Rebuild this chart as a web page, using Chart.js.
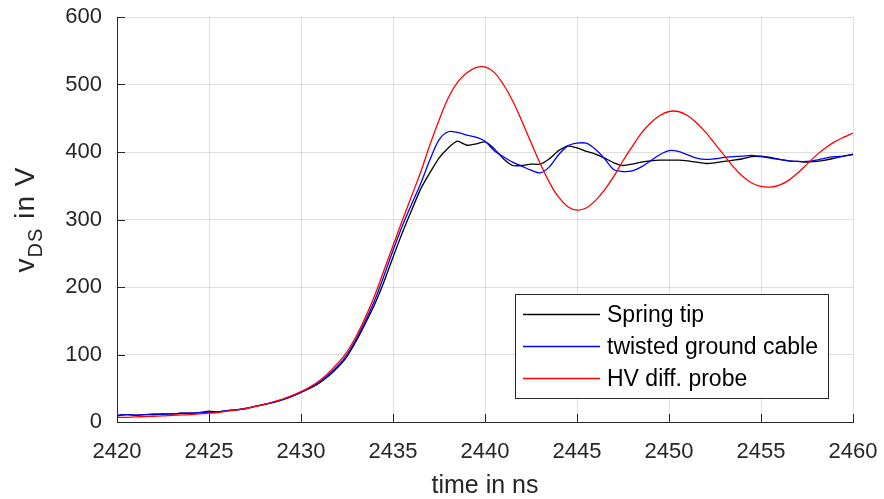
<!DOCTYPE html>
<html>
<head>
<meta charset="utf-8">
<script src="https://cdn.jsdelivr.net/npm/chart.js@4.4.1/dist/chart.umd.min.js"></script>
<style>
  html, body { margin: 0; padding: 0; background: #fff; }
</style>
</head>
<body>
<canvas id="vdsChart" width="884" height="499"></canvas>
<script>
// time axis in ns, one sample every 0.5 ns
const timeNs = [
  2420, 2420.5, 2421, 2421.5, 2422, 2422.5, 2423, 2423.5, 2424, 2424.5,
  2425, 2425.5, 2426, 2426.5, 2427, 2427.5, 2428, 2428.5, 2429, 2429.5,
  2430, 2430.5, 2431, 2431.5, 2432, 2432.5, 2433, 2433.5, 2434, 2434.5,
  2435, 2435.5, 2436, 2436.5, 2437, 2437.5, 2438, 2438.5, 2439, 2439.5,
  2440, 2440.5, 2441, 2441.5, 2442, 2442.5, 2443, 2443.5, 2444, 2444.5,
  2445, 2445.5, 2446, 2446.5, 2447, 2447.5, 2448, 2448.5, 2449, 2449.5,
  2450, 2450.5, 2451, 2451.5, 2452, 2452.5, 2453, 2453.5, 2454, 2454.5,
  2455, 2455.5, 2456, 2456.5, 2457, 2457.5, 2458, 2458.5, 2459, 2459.5,
  2460
];

// v_DS in V
const springTip = [
  9, 11, 10, 11, 11, 12, 12, 13, 13, 14,
  16, 15, 17, 18, 20, 23, 26, 29, 33, 38,
  44, 50, 58, 68, 81, 97, 120, 146, 174, 207,
  244, 280, 313, 345, 369, 391, 406, 416, 410, 412,
  415, 405, 390, 380, 380, 382, 382, 390, 402, 409,
  406, 401, 397, 391, 384, 380, 382, 385, 387, 388,
  388, 388, 387, 385, 383, 384, 386, 388, 390, 393,
  394, 392, 389, 387, 386, 385, 386, 388, 391, 394,
  397
];

const twistedCable = [
  10, 11, 10, 11, 12, 11.5, 12, 13, 13, 14,
  14, 15, 17, 18, 20, 23, 26, 29, 33, 38,
  44, 51, 59, 70, 83, 100, 123, 150, 180, 216,
  254, 290, 322, 353, 388, 418, 430, 429, 425, 422,
  416, 402, 393, 385, 379, 373, 369, 378, 396, 409,
  413, 413, 404, 390, 374, 371, 372, 378, 387, 396,
  402, 401, 396, 391, 389, 390, 392, 393, 394, 395,
  393, 391, 389, 387, 386, 386, 388, 391, 393, 394,
  396
];

const hvProbe = [
  7, 7, 7.5, 8, 8.5, 9, 10, 10.5, 11, 12,
  13, 14, 16, 18, 20, 23, 26, 30, 34, 39,
  45, 52, 61, 73, 87, 104, 127, 155, 187, 224,
  261, 298, 334, 370, 410, 447, 480, 503, 517, 525,
  526, 518, 500, 476, 446, 414, 383, 355, 333, 319,
  314, 317, 328, 344, 364, 387, 408, 428, 443, 454,
  460, 460, 454, 443, 429, 412, 395, 378, 364, 354,
  349, 348, 351, 358, 369, 382, 395, 406, 415, 422,
  428
];

const seriesNames = ['Spring tip', 'twisted ground cable', 'HV diff. probe'];
const seriesColors = ['#000000', '#0000ff', '#ff0000'];

const fontFamily = '"Liberation Sans", Arial, Helvetica, sans-serif';
const textColor = '#262626';
Chart.defaults.font.family = fontFamily;
Chart.defaults.color = textColor;

function toPoints(values) {
  return timeNs.map((t, i) => ({ x: t, y: values[i] }));
}

// stop the scales from pushing the plot area in for their end labels
function noEdgePadding(scale) {
  scale.paddingTop = 0;
  scale.paddingBottom = 0;
  scale.paddingLeft = 0;
  scale.paddingRight = 0;
}

// small inward tick marks like the original axes
const inwardTicks = {
  id: 'inwardTicks',
  afterDatasetsDraw(chart) {
    const { ctx, chartArea, scales } = chart;
    ctx.save();
    ctx.strokeStyle = textColor;
    ctx.lineWidth = 1;
    ctx.beginPath();
    scales.x.ticks.forEach(t => {
      const px = Math.round(scales.x.getPixelForValue(t.value)) + 0.5;
      ctx.moveTo(px, chartArea.bottom);
      ctx.lineTo(px, chartArea.bottom - 8);
    });
    scales.y.ticks.forEach(t => {
      const py = Math.round(scales.y.getPixelForValue(t.value)) + 0.5;
      ctx.moveTo(chartArea.left, py);
      ctx.lineTo(chartArea.left + 8, py);
    });
    ctx.stroke();
    ctx.restore();
  }
};

// y label with subscript: v_DS in V
const yLabel = {
  id: 'yLabel',
  afterDraw(chart) {
    const { ctx, chartArea } = chart;
    const mainFont = '28px ' + fontFamily;
    const subFont = '20px ' + fontFamily;
    ctx.save();
    ctx.fillStyle = textColor;
    ctx.textBaseline = 'alphabetic';
    ctx.textAlign = 'left';
    ctx.letterSpacing = '1px';
    ctx.font = mainFont;
    const wV = ctx.measureText('v').width;
    const wRest = ctx.measureText(' in V').width;
    ctx.font = subFont;
    const wSub = ctx.measureText('DS').width;
    const total = wV + wSub + wRest;
    ctx.translate(34, (chartArea.top + chartArea.bottom) / 2);
    ctx.rotate(-Math.PI / 2);
    let x = -total / 2;
    ctx.font = mainFont;
    ctx.fillText('v', x, 0);
    x += wV;
    ctx.font = subFont;
    ctx.fillText('DS', x, 8);
    x += wSub;
    ctx.font = mainFont;
    ctx.fillText(' in V', x, 0);
    ctx.restore();
  }
};

// boxed legend in the lower right of the axes
const legendBox = {
  id: 'legendBox',
  afterDraw(chart) {
    const { ctx, chartArea } = chart;
    const w = 313, h = 104;
    const x0 = chartArea.right - 25 - w;
    const y0 = chartArea.bottom - 24 - h;
    ctx.save();
    ctx.fillStyle = '#ffffff';
    ctx.fillRect(x0, y0, w, h);
    ctx.strokeStyle = textColor;
    ctx.lineWidth = 1;
    ctx.strokeRect(x0 + 0.5, y0 + 0.5, w, h);
    ctx.font = '23px ' + fontFamily;
    ctx.textBaseline = 'middle';
    ctx.textAlign = 'left';
    chart.data.datasets.forEach((ds, i) => {
      const y = y0 + 20.5 + i * 32;
      ctx.strokeStyle = ds.borderColor;
      ctx.lineWidth = 1.3;
      ctx.beginPath();
      ctx.moveTo(x0 + 8, y);
      ctx.lineTo(x0 + 85, y);
      ctx.stroke();
      ctx.fillStyle = '#000000';
      ctx.fillText(ds.label, x0 + 92, y + 1);
    });
    ctx.restore();
  }
};

new Chart(document.getElementById('vdsChart').getContext('2d'), {
  type: 'line',
  data: {
    datasets: [
      { label: seriesNames[0], data: toPoints(springTip), borderColor: seriesColors[0], borderWidth: 1.3, tension: 0.15, pointRadius: 0, order: 3 },
      { label: seriesNames[1], data: toPoints(twistedCable), borderColor: seriesColors[1], borderWidth: 1.3, tension: 0.3, pointRadius: 0, order: 2 },
      { label: seriesNames[2], data: toPoints(hvProbe), borderColor: seriesColors[2], borderWidth: 1.3, tension: 0.4, pointRadius: 0, order: 1 }
    ]
  },
  options: {
    responsive: false,
    animation: false,
    events: [],
    layout: { padding: { left: 0, right: 31, top: 17, bottom: 0 } },
    plugins: {
      legend: { display: false },
      tooltip: { enabled: false }
    },
    scales: {
      x: {
        type: 'linear',
        min: 2420,
        max: 2460,
        afterFit(scale) { scale.height = 77; noEdgePadding(scale); },
        ticks: { stepSize: 5, padding: 17, color: textColor, font: { size: 22 }, callback: v => String(v) },
        grid: { color: 'rgba(38,38,38,0.15)', drawTicks: false },
        border: { color: textColor, width: 1 },
        title: { display: true, text: 'time in ns', color: textColor, font: { size: 25 }, padding: { top: 0, bottom: -2 } }
      },
      y: {
        min: 0,
        max: 600,
        afterFit(scale) { scale.width = 117; noEdgePadding(scale); },
        ticks: { stepSize: 100, padding: 15, color: textColor, font: { size: 22 } },
        grid: { color: 'rgba(38,38,38,0.15)', drawTicks: false },
        border: { color: textColor, width: 1 }
      }
    }
  },
  plugins: [inwardTicks, yLabel, legendBox]
});
</script>
</body>
</html>
